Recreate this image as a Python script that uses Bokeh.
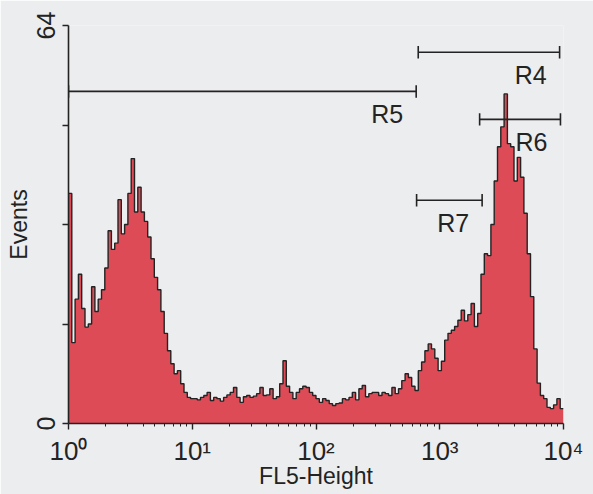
import numpy as np
from bokeh.plotting import figure
from bokeh.models import Range1d, FixedTicker, ColumnDataSource
from bokeh.core.properties import value
from bokeh.embed import file_html
from bokeh.resources import INLINE

# ---- data -------------------------------------------------------------
# histogram counts for 150 logarithmic channels spanning 10^0 .. 10^4
counts = [
    37, 13, 20, 24, 18.5, 15.5, 16, 22, 18, 20,
    21.5, 25, 31, 28, 29, 36, 30.5, 32, 37, 42.6,
    34, 38, 34, 32.5, 30, 26.5, 23.5, 21.5, 18, 14.5,
    11.7, 9.6, 8, 8.5, 6.4, 5, 4.2,
    4.0, 4.0, 3.8, 4.2, 4.5, 5.0, 3.7, 4.2, 4.0, 3.6,
    4.2, 4.6, 5.0, 5.8, 4.2, 3.4, 4.3, 4.5, 4.2, 4.4,
    4.8, 5.8, 4.5, 4.6, 5.6, 4.0, 4.3, 6.4, 10.1, 6.0,
    5.0, 4.0, 5.0, 5.6, 6.0,
    5.8, 5.0, 4.5, 4.0, 3.4, 4.0, 3.7, 3.2, 2.9, 3.2,
    3.3, 4.0, 3.8, 4.2, 5.0, 3.8, 5.6, 6.1, 4.3, 4.8,
    5.0, 5.0, 4.5, 5.0, 4.8, 4.5, 5.8, 4.8, 5.6, 6.9,
    8.0, 7.4, 6.0, 5.3, 8.5, 9.9, 11.7, 12.8,
    12.0, 10.5, 8.5, 10.0, 13.4, 14.5, 15.0, 15.6, 16.6, 18.2,
    16.5, 17.5, 19.3, 15.6, 17.7, 24.0, 27.3, 27.0, 32.0, 39.0,
    44.5, 47.7, 53.0, 45.0, 44.5, 39.0, 42.8, 39.6, 33.8, 27.3,
    20.4, 12.0, 6.5, 4.5, 4.0, 2.6, 2.4, 3.0, 4.0, 2.4,
]
x_min, x_max = 1, 10000
y_min, y_max = 0, 64

# region gates
gate_names = ["R4", "R5", "R6", "R7"]
gate_lo = [670, 1, 2100, 650]
gate_hi = [9300, 645, 9450, 2200]
gate_level = [59.7, 53.4, 48.9, 35.9]

x_ticks = [1, 10, 100, 1000, 10000]
x_tick_labels = ["10\u2070", "10\u00b9", "10\u00b2", "10\u00b3", "10\u2074"]
y_ticks = [0, 16, 32, 48, 64]
y_tick_labels = ["0", "", "", "", "64"]

# ---- styles -----------------------------------------------------------
BG = "#ecedef"
RED = "#dc4b56"
INK = "#232323"
FONT = "Liberation Sans"

n = len(counts)
edges = 10 ** (np.arange(n + 1) * np.log10(x_max / x_min) / n) * x_min
step_y = list(counts) + [counts[-1]]

p = figure(width=593, height=494, x_axis_type="log",
           x_range=Range1d(x_min, x_max), y_range=Range1d(y_min, y_max),
           output_backend="svg", toolbar_location=None,
           min_border_left=68, min_border_right=30,
           min_border_top=25, min_border_bottom=71,
           background_fill_color=BG, border_fill_color=BG,
           outline_line_color=None)

p.varea_step(x=list(edges), y1=[0] * (n + 1), y2=step_y, step_mode="after",
             fill_color=RED)
p.step(x=list(edges), y=step_y, mode="after",
       line_color=INK, line_width=1.4)

# gates
p.segment(x0=gate_lo, y0=gate_level, x1=gate_hi, y1=gate_level,
          line_color=INK, line_width=1.6)
lv = np.array(gate_level)
p.segment(x0=gate_lo, y0=lv - 1.0, x1=gate_lo, y1=lv + 1.0,
          line_color=INK, line_width=1.6)
p.segment(x0=gate_hi, y0=lv - 1.0, x1=gate_hi, y1=lv + 1.0,
          line_color=INK, line_width=1.6)
lab = ColumnDataSource(dict(x=gate_hi, y=gate_level, t=gate_names))
p.text(x="x", y="y", text="t", source=lab, x_offset=-13, y_offset=23,
       text_align="right", text_baseline="middle",
       text_font=value(FONT), text_font_size="25px", text_color=INK)

# axes
p.xgrid.visible = False
p.ygrid.visible = False

minor = [m * d for d in [1, 10, 100, 1000] for m in range(2, 10)]
p.xaxis.ticker = FixedTicker(ticks=x_ticks, minor_ticks=minor)
p.xaxis.major_label_overrides = dict(zip(x_ticks, x_tick_labels))
p.yaxis.ticker = FixedTicker(ticks=y_ticks)
p.yaxis.major_label_overrides = dict(zip(y_ticks, y_tick_labels))
p.yaxis.major_label_orientation = "vertical"

for ax in (p.xaxis, p.yaxis):
    ax.axis_line_color = INK
    ax.axis_line_width = 1.6
    ax.major_tick_line_color = INK
    ax.major_tick_line_width = 1.4
    ax.major_tick_in = 0
    ax.major_tick_out = 6
    ax.minor_tick_line_color = INK
    ax.minor_tick_in = 0
    ax.minor_tick_out = 3
    ax.major_label_text_font = FONT
    ax.major_label_text_font_size = "26px"
    ax.major_label_text_color = INK
    ax.axis_label_text_font = FONT
    ax.axis_label_text_font_size = "23px"
    ax.axis_label_text_font_style = "normal"
    ax.axis_label_text_color = INK

p.yaxis.minor_tick_line_color = None
p.yaxis.major_label_text_font_size = "25px"
p.xaxis.axis_label = "FL5-Height"
p.yaxis.axis_label = "Events"
p.xaxis.major_label_standoff = 6
p.yaxis.major_label_standoff = 8
p.xaxis.axis_label_standoff = -6
p.yaxis.axis_label_standoff = 2

open("out.html", "w").write(file_html(p, INLINE))
